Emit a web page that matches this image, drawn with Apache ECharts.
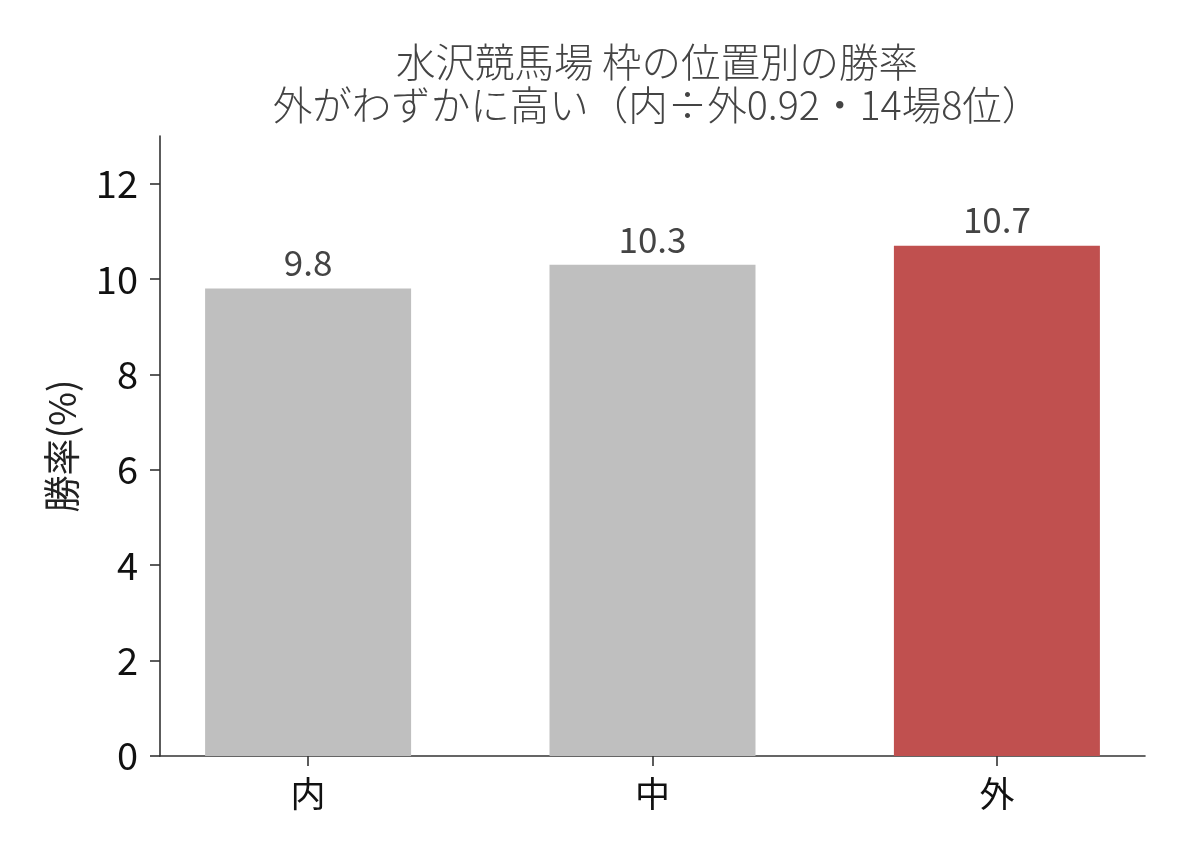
<!DOCTYPE html>
<html>
<head>
<meta charset="utf-8">
<script src="https://cdn.jsdelivr.net/npm/echarts@6/dist/echarts.min.js"></script>
<style>
html,body{margin:0;padding:0;background:#fff;}
#main{width:1188px;height:858px;}
</style>
</head>
<body>
<div id="main"></div>
<script>
const titleLines = ['水沢競馬場 枠の位置別の勝率', '外がわずかに高い（内÷外0.92・14場8位）'];
const categories = ['内', '中', '外'];
const winRates = [9.8, 10.3, 10.7];
const barColors = ['#bfbfbf', '#bfbfbf', '#c0504f'];
const yTicks = [0, 2, 4, 6, 8, 10, 12];
const yAxisName = '勝率(%)';

const FONT = '"Noto Sans CJK JP", "Noto Sans", sans-serif';
const chart = echarts.init(document.getElementById('main'), null, {renderer: 'canvas'});
const xIdx = categories.map((c, i) => i);

chart.setOption({
  backgroundColor: '#ffffff',
  animation: false,
  title: {
    text: titleLines.join('\n'),
    left: 652,
    textAlign: 'center',
    top: 35,
    textStyle: {fontFamily: FONT, fontSize: 39.5, fontWeight: 300, color: '#444444', lineHeight: 43}
  },
  grid: {left: 160, right: 43, top: 136, bottom: 102, containLabel: false},
  xAxis: {
    type: 'value',
    min: -0.43,
    max: 2.43,
    splitLine: {show: false},
    axisLine: {show: true, onZero: false, lineStyle: {color: '#333333', width: 1.6}},
    axisTick: {show: true, length: 10, customValues: xIdx, lineStyle: {color: '#333333', width: 1.6}},
    axisLabel: {
      customValues: xIdx,
      formatter: v => categories[Math.round(v)] || '',
      fontFamily: FONT, fontSize: 35, color: '#111111', margin: 20
    }
  },
  yAxis: {
    type: 'value',
    min: 0,
    max: 13,
    name: yAxisName,
    nameLocation: 'middle',
    nameGap: 80,
    nameTextStyle: {fontFamily: FONT, fontSize: 37, color: '#222222'},
    splitLine: {show: false},
    axisLine: {show: true, onZero: false, lineStyle: {color: '#333333', width: 1.6}},
    axisTick: {show: true, length: 10, customValues: yTicks, lineStyle: {color: '#333333', width: 1.6}},
    axisLabel: {customValues: yTicks, fontFamily: FONT, fontSize: 38, color: '#111111', margin: 22}
  },
  series: [{
    type: 'bar',
    barWidth: 206,
    data: winRates.map((v, i) => ({value: [i, v], itemStyle: {color: barColors[i]}})),
    label: {
      show: true,
      position: 'top',
      distance: 8,
      formatter: p => p.value[1].toFixed(1),
      fontFamily: FONT, fontSize: 35, color: '#444444'
    }
  }]
});
</script>
</body>
</html>
